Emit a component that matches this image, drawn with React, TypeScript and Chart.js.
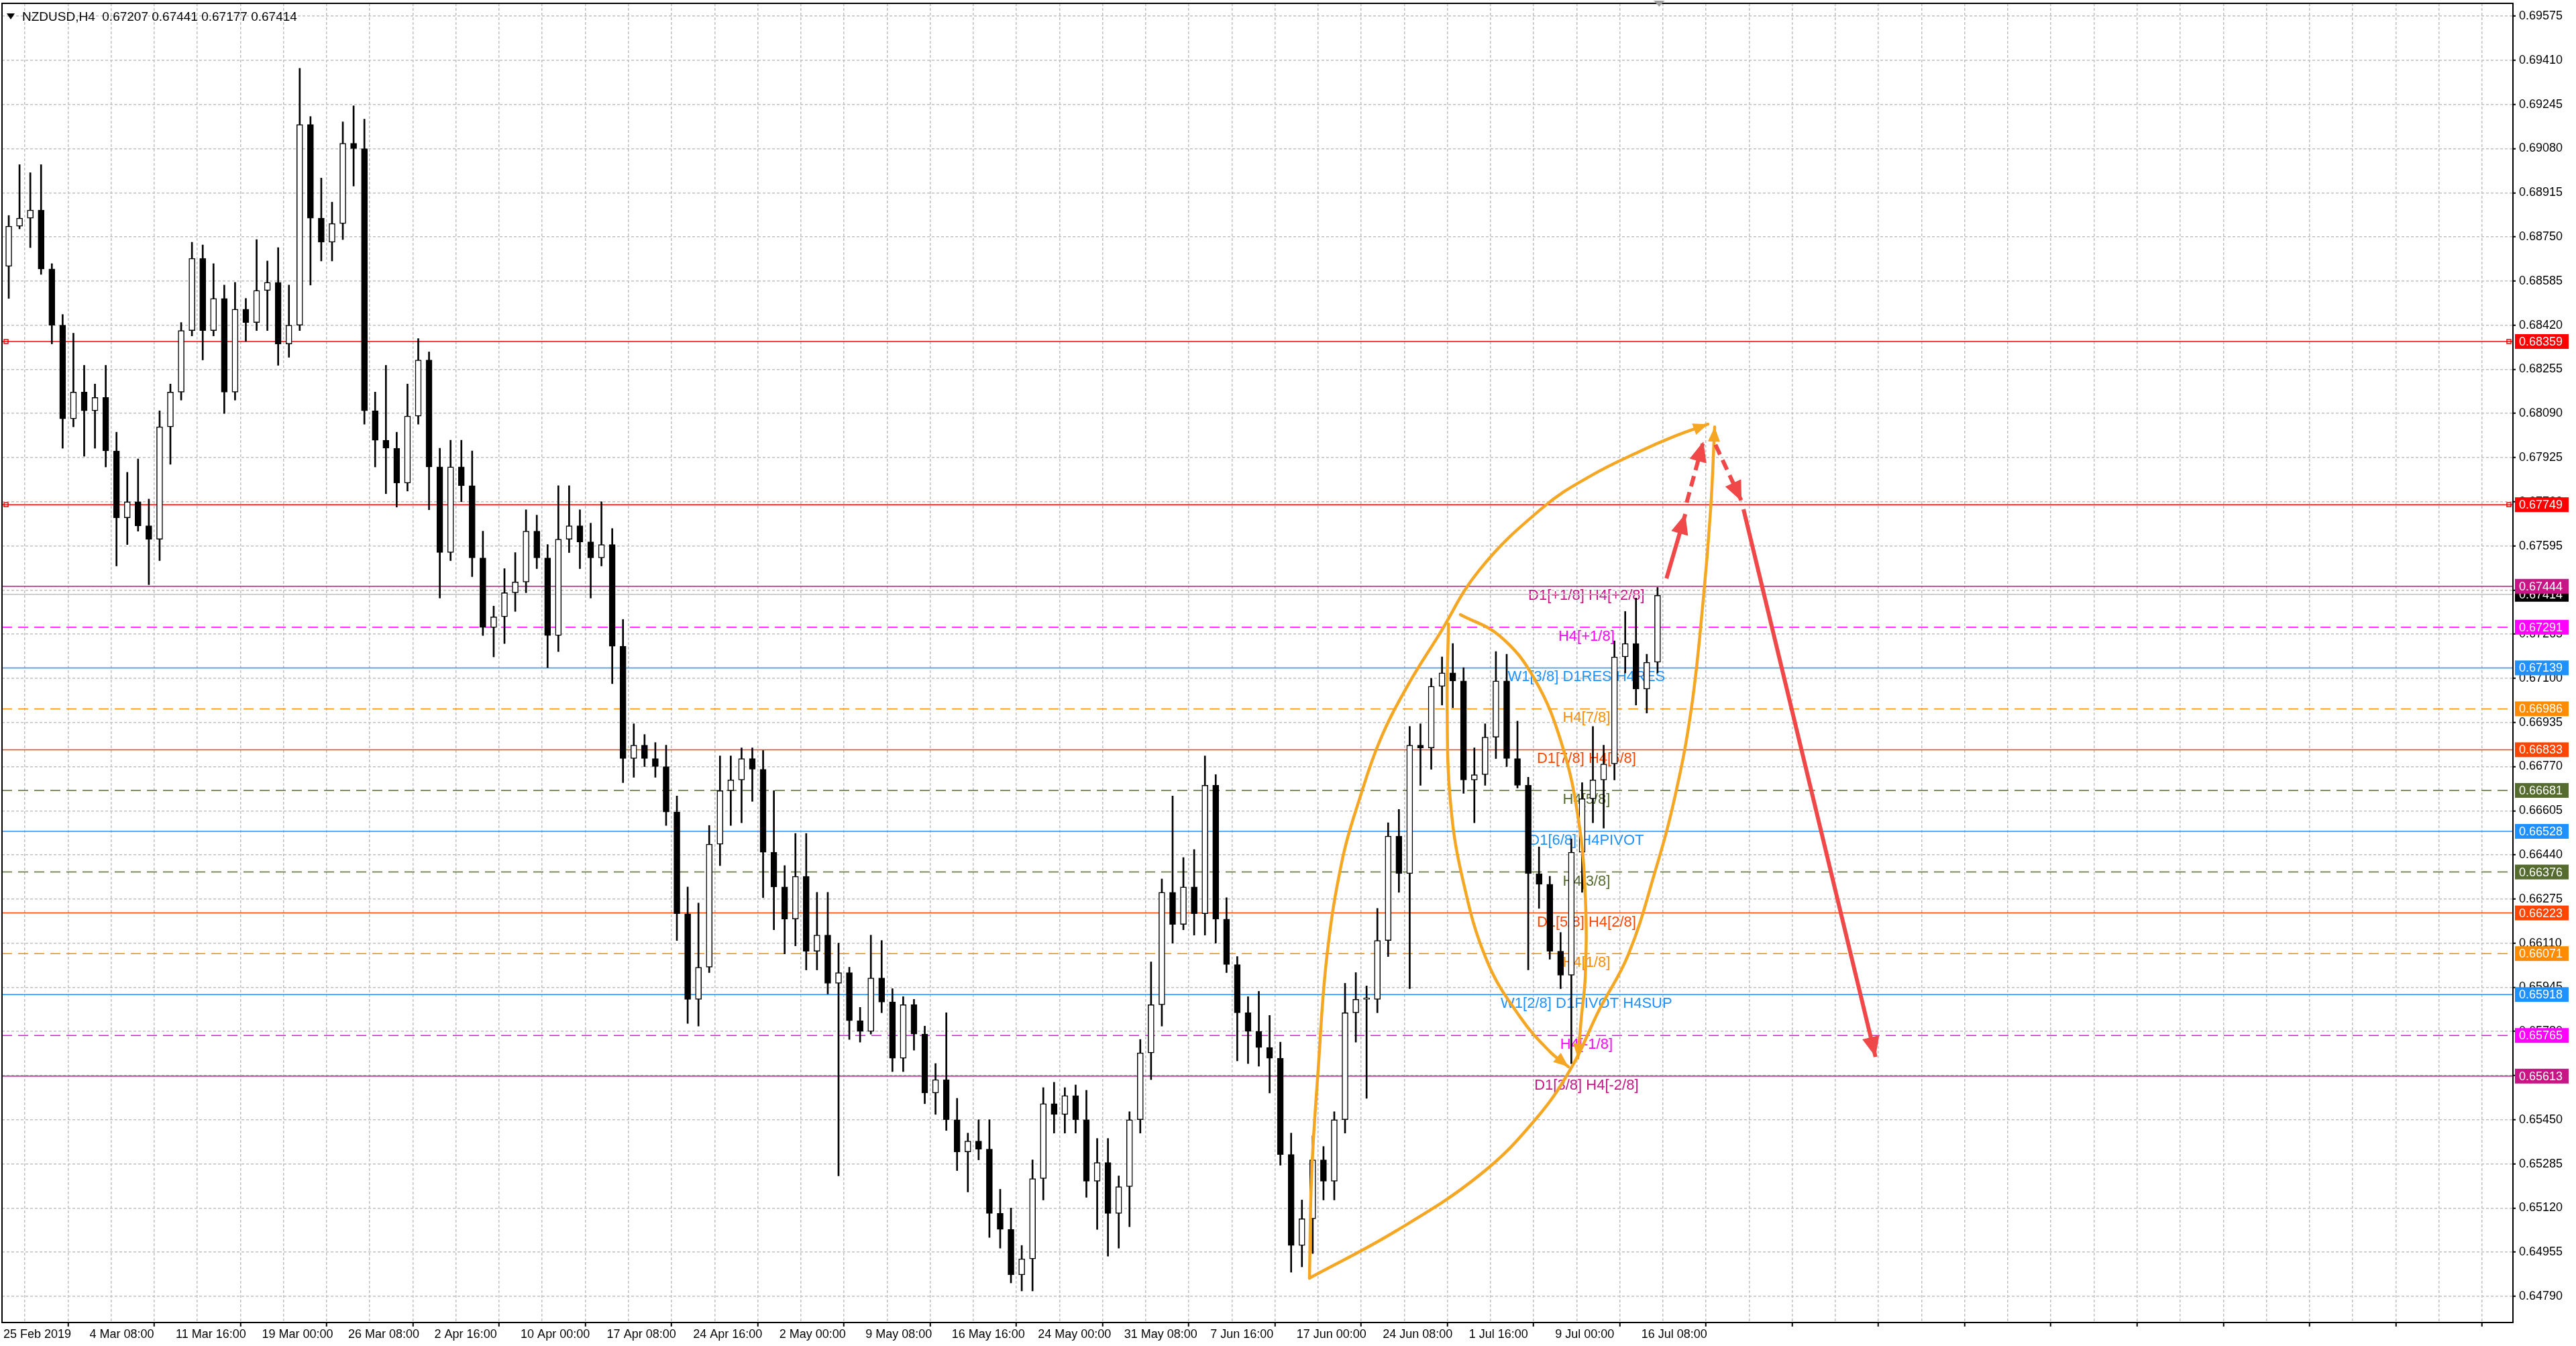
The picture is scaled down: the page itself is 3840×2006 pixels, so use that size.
import React, { useEffect, useRef } from "react";
import Chart from "chart.js/auto";
import type { ChartConfiguration, Plugin } from "chart.js";

const TITLE = "NZDUSD,H4  0.67207 0.67441 0.67177 0.67414";

// one candle per four H4 bars
const OPENS = [
    0.6864, 0.6879, 0.6882, 0.6885, 0.6863, 0.6842, 0.6807, 0.6817, 0.6810, 0.6815,
    0.6795, 0.6770, 0.6776, 0.6767, 0.6762, 0.6804, 0.6817, 0.6840, 0.6867, 0.6840,
    0.6852, 0.6817, 0.6848, 0.6843, 0.6855, 0.6858, 0.6835, 0.6842, 0.6917, 0.6882,
    0.6873, 0.6880, 0.6910, 0.6908, 0.6810, 0.6799, 0.6796, 0.6783, 0.6808, 0.6829,
    0.6789, 0.6757, 0.6789, 0.6782, 0.6755, 0.6729, 0.6733, 0.6742, 0.6746, 0.6765,
    0.6755, 0.6726, 0.6762, 0.6767, 0.6761, 0.6755, 0.6760, 0.6722, 0.6680, 0.6685,
    0.6680, 0.6677, 0.6660, 0.6622, 0.6590, 0.6602, 0.6648, 0.6668, 0.6672, 0.6680,
    0.6676, 0.6645, 0.6632, 0.6620, 0.6636, 0.6608, 0.6614, 0.6596, 0.6600, 0.6582,
    0.6578, 0.6598, 0.6589, 0.6568, 0.6588, 0.6577, 0.6555, 0.6560, 0.6545, 0.6533,
    0.6537, 0.6534, 0.6510, 0.6504, 0.6487, 0.6493, 0.6523, 0.6551, 0.6547, 0.6554,
    0.6545, 0.6522, 0.6529, 0.6510, 0.6520, 0.6545, 0.6570, 0.6588, 0.6630, 0.6618,
    0.6632, 0.6622, 0.6670, 0.6620, 0.6603, 0.6585, 0.6578, 0.6572, 0.6568, 0.6532,
    0.6498, 0.6508, 0.6530, 0.6522, 0.6545, 0.6585, 0.6590, 0.6590, 0.6612, 0.6651,
    0.6637, 0.6685, 0.6684, 0.6707, 0.6712, 0.6709, 0.6672, 0.6674, 0.6688, 0.6709,
    0.6680, 0.6670, 0.6637, 0.6633, 0.6608, 0.6599, 0.6645, 0.6665, 0.6672, 0.6678,
    0.6718, 0.6723, 0.6706, 0.6716,
];
const HIGHS = [
    0.6883, 0.6902, 0.6899, 0.6902, 0.6865, 0.6846, 0.6839, 0.6827, 0.6820, 0.6827,
    0.6802, 0.6787, 0.6792, 0.6777, 0.6810, 0.6820, 0.6843, 0.6873, 0.6872, 0.6865,
    0.6857, 0.6858, 0.6852, 0.6874, 0.6866, 0.6871, 0.6857, 0.6938, 0.6920, 0.6897,
    0.6888, 0.6918, 0.6924, 0.6919, 0.6817, 0.6827, 0.6802, 0.6820, 0.6837, 0.6832,
    0.6796, 0.6799, 0.6799, 0.6795, 0.6765, 0.6737, 0.6751, 0.6757, 0.6773, 0.6771,
    0.6760, 0.6782, 0.6782, 0.6773, 0.6768, 0.6776, 0.6766, 0.6732, 0.6693, 0.6689,
    0.6686, 0.6685, 0.6666, 0.6632, 0.6626, 0.6655, 0.6681, 0.6681, 0.6684, 0.6684,
    0.6683, 0.6668, 0.6640, 0.6652, 0.6652, 0.6630, 0.6630, 0.6611, 0.6602, 0.6587,
    0.6614, 0.6612, 0.6594, 0.6591, 0.6590, 0.6580, 0.6566, 0.6585, 0.6553, 0.6540,
    0.6545, 0.6545, 0.6519, 0.6512, 0.6498, 0.6530, 0.6557, 0.6559, 0.6557, 0.6558,
    0.6556, 0.6538, 0.6538, 0.6524, 0.6548, 0.6575, 0.6604, 0.6635, 0.6666, 0.6643,
    0.6646, 0.6681, 0.6674, 0.6628, 0.6606, 0.6591, 0.6593, 0.6584, 0.6574, 0.6540,
    0.6515, 0.6539, 0.6535, 0.6548, 0.6596, 0.6600, 0.6595, 0.6624, 0.6656, 0.6661,
    0.6692, 0.6693, 0.6710, 0.6718, 0.6723, 0.6714, 0.6684, 0.6693, 0.6720, 0.6719,
    0.6694, 0.6673, 0.6647, 0.6636, 0.6615, 0.6650, 0.6671, 0.6692, 0.6685, 0.6724,
    0.6735, 0.6740, 0.6719, 0.6744,
];
const LOWS = [
    0.6852, 0.6878, 0.6871, 0.6861, 0.6835, 0.6796, 0.6804, 0.6793, 0.6796, 0.6789,
    0.6752, 0.6760, 0.6765, 0.6745, 0.6754, 0.6790, 0.6814, 0.6838, 0.6829, 0.6838,
    0.6809, 0.6814, 0.6836, 0.6840, 0.6840, 0.6827, 0.6830, 0.6840, 0.6857, 0.6866,
    0.6866, 0.6874, 0.6894, 0.6805, 0.6789, 0.6779, 0.6774, 0.6780, 0.6805, 0.6773,
    0.6740, 0.6754, 0.6776, 0.6748, 0.6726, 0.6718, 0.6723, 0.6735, 0.6742, 0.6751,
    0.6714, 0.6720, 0.6757, 0.6751, 0.6740, 0.6752, 0.6708, 0.6671, 0.6673, 0.6677,
    0.6673, 0.6655, 0.6612, 0.6581, 0.6580, 0.6600, 0.6640, 0.6655, 0.6656, 0.6664,
    0.6628, 0.6616, 0.6607, 0.6610, 0.6601, 0.6601, 0.6592, 0.6524, 0.6575, 0.6574,
    0.6577, 0.6585, 0.6563, 0.6563, 0.6571, 0.6551, 0.6547, 0.6541, 0.6526, 0.6518,
    0.6530, 0.6501, 0.6497, 0.6484, 0.6481, 0.6481, 0.6515, 0.6540, 0.6540, 0.6540,
    0.6516, 0.6504, 0.6494, 0.6497, 0.6505, 0.6540, 0.6560, 0.6580, 0.6611, 0.6616,
    0.6614, 0.6614, 0.6611, 0.6600, 0.6567, 0.6566, 0.6565, 0.6555, 0.6528, 0.6488,
    0.6490, 0.6495, 0.6515, 0.6515, 0.6540, 0.6574, 0.6553, 0.6585, 0.6606, 0.6630,
    0.6594, 0.6670, 0.6676, 0.6700, 0.6699, 0.6667, 0.6656, 0.6670, 0.6680, 0.6677,
    0.6669, 0.6601, 0.6624, 0.6605, 0.6594, 0.6566, 0.6630, 0.6656, 0.6654, 0.6672,
    0.6712, 0.6700, 0.6697, 0.6712,
];
const CLOSES = [
    0.6879, 0.6882, 0.6885, 0.6863, 0.6842, 0.6807, 0.6817, 0.6810, 0.6815, 0.6795,
    0.6770, 0.6776, 0.6767, 0.6762, 0.6804, 0.6817, 0.6840, 0.6867, 0.6840, 0.6852,
    0.6817, 0.6848, 0.6843, 0.6855, 0.6858, 0.6835, 0.6842, 0.6917, 0.6882, 0.6873,
    0.6880, 0.6910, 0.6908, 0.6810, 0.6799, 0.6796, 0.6783, 0.6808, 0.6829, 0.6789,
    0.6757, 0.6789, 0.6782, 0.6755, 0.6729, 0.6733, 0.6742, 0.6746, 0.6765, 0.6755,
    0.6726, 0.6762, 0.6767, 0.6761, 0.6755, 0.6760, 0.6722, 0.6680, 0.6685, 0.6680,
    0.6677, 0.6660, 0.6622, 0.6590, 0.6602, 0.6648, 0.6668, 0.6672, 0.6680, 0.6676,
    0.6645, 0.6632, 0.6620, 0.6636, 0.6608, 0.6614, 0.6596, 0.6600, 0.6582, 0.6578,
    0.6598, 0.6589, 0.6568, 0.6588, 0.6577, 0.6555, 0.6560, 0.6545, 0.6533, 0.6537,
    0.6534, 0.6510, 0.6504, 0.6487, 0.6493, 0.6523, 0.6551, 0.6547, 0.6554, 0.6545,
    0.6522, 0.6529, 0.6510, 0.6520, 0.6545, 0.6570, 0.6588, 0.6630, 0.6618, 0.6632,
    0.6622, 0.6670, 0.6620, 0.6603, 0.6585, 0.6578, 0.6572, 0.6568, 0.6532, 0.6498,
    0.6508, 0.6530, 0.6522, 0.6545, 0.6585, 0.6590, 0.6590, 0.6612, 0.6651, 0.6637,
    0.6685, 0.6684, 0.6707, 0.6712, 0.6709, 0.6672, 0.6674, 0.6688, 0.6709, 0.6680,
    0.6670, 0.6637, 0.6633, 0.6608, 0.6599, 0.6645, 0.6665, 0.6672, 0.6678, 0.6718,
    0.6723, 0.6706, 0.6716, 0.6741,
];

const BARS_PER_CANDLE = 4;

const TIME_LABELS = [
    "25 Feb 2019", "4 Mar 08:00", "11 Mar 16:00", "19 Mar 00:00", "26 Mar 08:00",
    "2 Apr 16:00", "10 Apr 00:00", "17 Apr 08:00", "24 Apr 16:00", "2 May 00:00",
    "9 May 08:00", "16 May 16:00", "24 May 00:00", "31 May 08:00", "7 Jun 16:00",
    "17 Jun 00:00", "24 Jun 08:00", "1 Jul 16:00", "9 Jul 00:00", "16 Jul 08:00",
];

const PRICE_TICKS = [
    0.6479, 0.64955, 0.6512, 0.65285, 0.6545, 0.65615, 0.6578, 0.65945, 0.6611, 0.66275,
    0.6644, 0.66605, 0.6677, 0.66935, 0.671, 0.67265, 0.6743, 0.67595, 0.6776, 0.67925,
    0.6809, 0.68255, 0.6842, 0.68585, 0.6875, 0.68915, 0.6908, 0.69245, 0.6941, 0.69575,
];

const LEVEL_PRICES = [
    0.68359, 0.67749, 0.67444, 0.67291, 0.67139, 0.66986, 0.66833, 0.66681,
    0.66528, 0.66376, 0.66223, 0.66071, 0.65918, 0.65765, 0.65613,
];
const LEVEL_COLORS = [
    "#ff0000", "#ff0000", "#c71585", "#ff00ff", "#1e90ff", "#ff8c00", "#ff4500", "#556b2f",
    "#1e90ff", "#556b2f", "#ff4500", "#ff8c00", "#1e90ff", "#ff00ff", "#c71585",
];
const LEVEL_DASHED = [
    false, false, false, true, false, true, false, true,
    false, true, false, true, false, true, false,
];
const LEVEL_TEXTS = [
    "", "", "D1[+1/8] H4[+2/8]", "H4[+1/8]", "W1[3/8] D1RES H4RES", "H4[7/8]",
    "D1[7/8] H4[6/8]", "H4[5/8]", "D1[6/8] H4PIVOT", "H4[3/8]", "D1[5/8] H4[2/8]",
    "H4[1/8]", "W1[2/8] D1PIVOT H4SUP", "H4[-1/8]", "D1[3/8] H4[-2/8]",
];
const LEVEL_TEXT_BAR = 587.6;
const BID_PRICE = 0.67414;

// hand-drawn annotations, in (H4 bar, price)
const LEFT_ARC = [
    { x: 484.8, y: 0.64858 }, { x: 485.6, y: 0.65246 }, { x: 488.0, y: 0.65633 },
    { x: 491.3, y: 0.66064 }, { x: 497.0, y: 0.66423 }, { x: 503.5, y: 0.66653 },
    { x: 511.0, y: 0.66869 }, { x: 521.2, y: 0.67072 }, { x: 532.6, y: 0.67258 },
    { x: 547.8, y: 0.67504 }, { x: 571.5, y: 0.67739 }, { x: 589.2, y: 0.67857 },
    { x: 607.1, y: 0.67947 }, { x: 620.3, y: 0.68005 }, { x: 632.7, y: 0.6805 },
];
const RIGHT_ARC = [
    { x: 484.8, y: 0.64858 }, { x: 516.7, y: 0.65033 }, { x: 548.3, y: 0.65246 },
    { x: 569.0, y: 0.65455 }, { x: 582.2, y: 0.65648 }, { x: 592.1, y: 0.65856 },
    { x: 603.1, y: 0.66066 }, { x: 613.0, y: 0.66375 }, { x: 620.3, y: 0.66651 },
    { x: 626.5, y: 0.66984 }, { x: 631.0, y: 0.67398 }, { x: 633.7, y: 0.67732 },
    { x: 635.2, y: 0.6804 },
];
const INNER_LEFT_ARC = [
    { x: 536.4, y: 0.67303 }, { x: 535.9, y: 0.67002 }, { x: 537.1, y: 0.66641 },
    { x: 541.6, y: 0.66352 }, { x: 550.8, y: 0.66041 }, { x: 563.2, y: 0.65831 },
    { x: 574.0, y: 0.65705 }, { x: 580.9, y: 0.65648 },
];
const INNER_RIGHT_ARC = [
    { x: 540.8, y: 0.67338 }, { x: 555.5, y: 0.67258 }, { x: 568.2, y: 0.671 },
    { x: 578.4, y: 0.66856 }, { x: 584.7, y: 0.66568 }, { x: 587.2, y: 0.6628 },
    { x: 587.2, y: 0.65991 }, { x: 585.7, y: 0.65831 }, { x: 584.4, y: 0.6568 },
];
const ARROW_UP = [{ x: 617.3, y: 0.67473 }, { x: 624.3, y: 0.67714 }];
const ARROW_UP_DASHED = [{ x: 624.8, y: 0.67757 }, { x: 631.0, y: 0.67985 }];
const ARROW_DOWN_DASHED = [{ x: 635.5, y: 0.67973 }, { x: 645.2, y: 0.67762 }];
const ARROW_DOWN = [{ x: 645.9, y: 0.67732 }, { x: 694.9, y: 0.65685 }];

const ORANGE = "#f5a623";
const RED = "#f04848";
const FONT = '"Liberation Sans", Arial, sans-serif';

type Pt = { x: number; y: number };

const drawHead = (ctx: CanvasRenderingContext2D, from: Pt, to: Pt, len: number, half: number, color: string) => {
    const a = Math.atan2(to.y - from.y, to.x - from.x);
    const bx = to.x - len * Math.cos(a);
    const by = to.y - len * Math.sin(a);
    ctx.beginPath();
    ctx.moveTo(to.x, to.y);
    ctx.lineTo(bx + half * Math.sin(a), by - half * Math.cos(a));
    ctx.lineTo(bx - half * Math.sin(a), by + half * Math.cos(a));
    ctx.closePath();
    ctx.fillStyle = color;
    ctx.fill();
};

const overlayPlugin: Plugin = {
    id: "mt4Overlay",
    beforeDatasetsDraw(chart) {
        const { ctx, scales } = chart;
        const x = scales.x.getPixelForValue(LEVEL_TEXT_BAR);
        ctx.save();
        ctx.font = `22px ${FONT}`;
        ctx.textAlign = "center";
        ctx.textBaseline = "middle";
        LEVEL_PRICES.forEach((price, i) => {
            if (!LEVEL_TEXTS[i]) return;
            ctx.fillStyle = LEVEL_COLORS[i];
            ctx.fillText(LEVEL_TEXTS[i], x, scales.y.getPixelForValue(price) + 14);
        });
        ctx.restore();
    },
    afterDatasetsDraw(chart) {
        const { ctx, scales } = chart;
        const px = (p: Pt) => ({ x: scales.x.getPixelForValue(p.x), y: scales.y.getPixelForValue(p.y) });
        ctx.save();
        [LEFT_ARC, RIGHT_ARC, INNER_LEFT_ARC, INNER_RIGHT_ARC].forEach((arc) => {
            drawHead(ctx, px(arc[arc.length - 2]), px(arc[arc.length - 1]), 22, 9, ORANGE);
        });
        [ARROW_UP, ARROW_UP_DASHED, ARROW_DOWN_DASHED, ARROW_DOWN].forEach((arrow) => {
            drawHead(ctx, px(arrow[0]), px(arrow[1]), 30, 13, RED);
        });
        ctx.restore();
    },
    afterDraw(chart) {
        const { ctx, chartArea, scales } = chart;
        ctx.save();

        // frame
        ctx.strokeStyle = "#000";
        ctx.lineWidth = 2;
        ctx.strokeRect(chartArea.left, chartArea.top, chartArea.right - chartArea.left, chartArea.bottom - chartArea.top);

        // end markers of the two red trend lines
        ctx.strokeStyle = "#ff0000";
        ctx.lineWidth = 1.5;
        [LEVEL_PRICES[0], LEVEL_PRICES[1]].forEach((price) => {
            const y = scales.y.getPixelForValue(price);
            ctx.strokeRect(chartArea.left + 3, y - 3, 6, 6);
            ctx.strokeRect(chartArea.right - 9, y - 3, 6, 6);
        });

        // shift marker
        const mx = scales.x.getPixelForValue(614.6);
        ctx.fillStyle = "#a0a0a0";
        ctx.beginPath();
        ctx.moveTo(mx - 8, chartArea.top - 4);
        ctx.lineTo(mx + 8, chartArea.top - 4);
        ctx.lineTo(mx, chartArea.top + 5);
        ctx.closePath();
        ctx.fill();

        // price boxes on the axis
        ctx.font = `18px ${FONT}`;
        ctx.textAlign = "left";
        ctx.textBaseline = "middle";
        const box = (price: number, color: string) => {
            const y = scales.y.getPixelForValue(price);
            ctx.fillStyle = color;
            ctx.fillRect(chartArea.right + 3, y - 11, 80, 22);
            ctx.fillStyle = "#fff";
            ctx.fillText(price.toFixed(5), chartArea.right + 9, y + 1);
        };
        box(BID_PRICE, "#000");
        LEVEL_PRICES.forEach((price, i) => box(price, LEVEL_COLORS[i]));

        // title
        ctx.fillStyle = "#000";
        ctx.beginPath();
        ctx.moveTo(chartArea.left + 7, chartArea.top + 15);
        ctx.lineTo(chartArea.left + 19, chartArea.top + 15);
        ctx.lineTo(chartArea.left + 13, chartArea.top + 24);
        ctx.closePath();
        ctx.fill();
        ctx.font = `19px ${FONT}`;
        ctx.fillText(TITLE, chartArea.left + 30, chartArea.top + 21);

        ctx.restore();
    },
};

export default function App() {
    const canvasRef = useRef<HTMLCanvasElement | null>(null);

    useEffect(() => {
        document.body.style.margin = "0";
        document.body.style.overflow = "hidden";
        const canvas = canvasRef.current;
        if (!canvas) return;

        const candleX = (i: number) => i * BARS_PER_CANDLE + BARS_PER_CANDLE / 2;
        const tickFont = { family: FONT, size: 18 };

        const levelSets = LEVEL_PRICES.map((price, i) => ({
            type: "line" as const,
            data: [{ x: -0.5, y: price }, { x: 931.5, y: price }],
            borderColor: LEVEL_COLORS[i],
            borderWidth: 1.5,
            borderDash: LEVEL_DASHED[i] ? [15, 9] : [],
            pointRadius: 0,
            order: 10,
        }));

        const arcSet = (data: Pt[]) => ({
            type: "line" as const,
            data,
            borderColor: ORANGE,
            borderWidth: 4.5,
            borderCapStyle: "round" as const,
            tension: 0.4,
            pointRadius: 0,
            order: 2,
        });
        const arrowSet = (data: Pt[], dashed: boolean) => ({
            type: "line" as const,
            data,
            borderColor: RED,
            borderWidth: 6,
            borderDash: dashed ? [16, 9] : [],
            pointRadius: 0,
            order: 1,
        });

        const config: ChartConfiguration = {
            type: "bar",
            data: {
                datasets: [
                    ...levelSets,
                    {
                        type: "line",
                        data: [{ x: -0.5, y: BID_PRICE }, { x: 931.5, y: BID_PRICE }],
                        borderColor: "#c0c0c0",
                        borderWidth: 1.5,
                        pointRadius: 0,
                        order: 9,
                    },
                    {
                        type: "bar",
                        data: LOWS.map((low, i) => ({ x: candleX(i), y: [low, HIGHS[i]] })),
                        backgroundColor: "#000",
                        borderWidth: 0,
                        barThickness: 2,
                        grouped: false,
                        order: 4,
                    },
                    {
                        type: "bar",
                        data: OPENS.map((open, i) => ({ x: candleX(i), y: [open, CLOSES[i]] })),
                        backgroundColor: (c: any) =>
                            CLOSES[c.dataIndex] >= OPENS[c.dataIndex] ? "#ffffff" : "#000000",
                        borderColor: "#000",
                        borderWidth: 1.5,
                        borderSkipped: false,
                        barThickness: 9,
                        minBarLength: 2,
                        grouped: false,
                        order: 3,
                    },
                    arcSet(LEFT_ARC),
                    arcSet(RIGHT_ARC),
                    arcSet(INNER_LEFT_ARC),
                    arcSet(INNER_RIGHT_ARC),
                    arrowSet(ARROW_UP, false),
                    arrowSet(ARROW_UP_DASHED, true),
                    arrowSet(ARROW_DOWN_DASHED, true),
                    arrowSet(ARROW_DOWN, false),
                ] as any,
            },
            options: {
                responsive: false,
                animation: false,
                devicePixelRatio: 1,
                layout: { padding: { left: 3, top: 5, right: 0, bottom: 0 } },
                plugins: {
                    legend: { display: false },
                    tooltip: { enabled: false },
                },
                scales: {
                    x: {
                        type: "linear",
                        min: -0.5,
                        max: 931.5,
                        offset: false,
                        afterBuildTicks: (scale: any) => {
                            scale.ticks = Array.from({ length: 59 }, (_, k) => ({ value: k * 16 }));
                        },
                        afterFit: (scale: any) => {
                            scale.height = 35;
                            scale.paddingLeft = 0;
                            scale.paddingRight = 0;
                        },
                        ticks: {
                            autoSkip: false,
                            maxRotation: 0,
                            minRotation: 0,
                            align: "start",
                            padding: 1,
                            color: "#000",
                            font: tickFont,
                            callback: (value: any) => {
                                const n = Number(value);
                                return n % 32 === 0 && TIME_LABELS[n / 32] ? TIME_LABELS[n / 32] : "";
                            },
                        },
                        grid: {
                            color: "#c0c0c0",
                            lineWidth: 1.5,
                            tickLength: 6,
                            tickWidth: 2,
                            tickColor: (c: any) =>
                                c.tick && c.tick.value % 32 === 0 ? "#000" : "rgba(0,0,0,0)",
                        },
                        border: { display: true, color: "#000", width: 2, dash: [4, 3] },
                    },
                    y: {
                        type: "linear",
                        position: "right",
                        min: 0.64692,
                        max: 0.69623,
                        afterBuildTicks: (scale: any) => {
                            scale.ticks = PRICE_TICKS.map((value) => ({ value }));
                        },
                        afterFit: (scale: any) => {
                            scale.width = 94;
                            scale.paddingTop = 0;
                            scale.paddingBottom = 0;
                        },
                        ticks: {
                            autoSkip: false,
                            padding: 5,
                            color: "#000",
                            font: tickFont,
                            callback: (value: any) => Number(value).toFixed(5),
                        },
                        grid: {
                            color: "#c0c0c0",
                            lineWidth: 1.5,
                            tickLength: 4,
                            tickWidth: 2,
                            tickColor: "#000",
                        },
                        border: { display: true, color: "#000", width: 2, dash: [4, 3] },
                    },
                },
            } as any,
            plugins: [overlayPlugin],
        };

        const chart = new Chart(canvas, config);

        return () => {
            chart.destroy();
        };
    }, []);

    return (
        <div style={{ width: 3840, height: 2006, background: "#fff" }}>
            <canvas ref={canvasRef} width={3840} height={2006} style={{ display: "block" }} />
        </div>
    );
}
